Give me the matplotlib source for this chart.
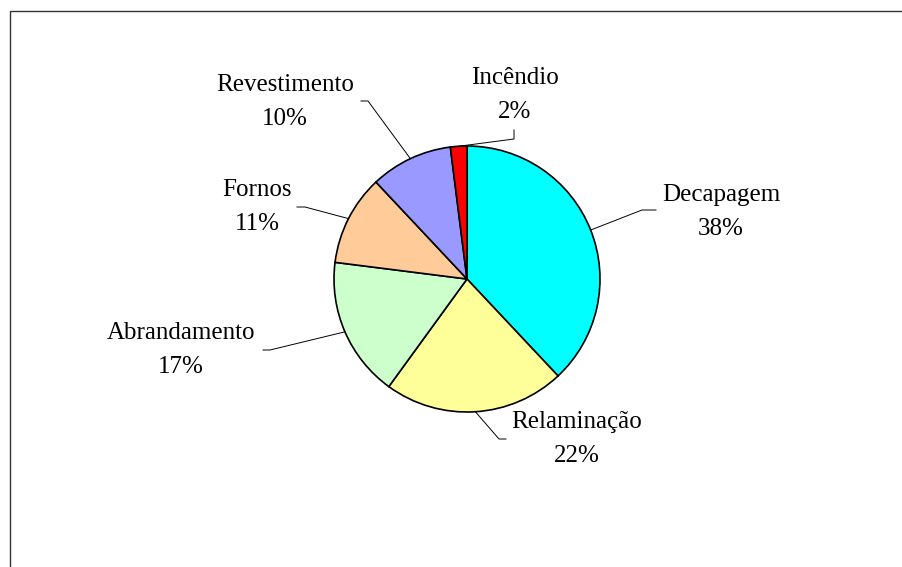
import numpy as np
import matplotlib.pyplot as plt
from matplotlib.patches import Rectangle

# Slice data (clockwise from 12 o'clock)
labels = ["Decapagem", "Relaminação", "Abrandamento", "Fornos", "Revestimento", "Incêndio"]
values = [38, 22, 17, 11, 10, 2]
colors = ["#00FFFF", "#FFFF99", "#CCFFCC", "#FFCC99", "#9999FF", "#FF0000"]

# Label placement (pixel coords, y down) and leader-line elbows
label_pos = [(721, 212), (577, 439), (181, 350), (257, 207), (285, 102), (515, 95)]
elbows = [[(642, 210), (656, 210)],
          [(499, 439), (506, 439)],
          [(270, 350), (263, 350)],
          [(305, 207), (297, 207)],
          [(368, 101), (361, 101)],
          [(514, 139), (514, 130)]]

cx, cy, r = 467, 279, 133

plt.rcParams['font.family'] = ['Liberation Serif', 'DejaVu Serif']

fig = plt.figure(figsize=(9.02, 5.67), dpi=100)
ax = fig.add_axes([0, 0, 1, 1])

# y axis is inverted, so counterclock in data = clockwise on screen
wedges, _ = ax.pie(values, colors=colors, startangle=-90, counterclock=True,
                   center=(cx, cy), radius=r,
                   wedgeprops=dict(edgecolor='black', linewidth=1.2))

ax.set_xlim(0, 902)
ax.set_ylim(567, 0)
ax.set_aspect('equal')
ax.axis('off')

for w, lab, v, (lx, ly), elb in zip(wedges, labels, values, label_pos, elbows):
    mid = np.deg2rad((w.theta1 + w.theta2) / 2)
    px, py = cx + r * np.cos(mid), cy + r * np.sin(mid)
    xs = [px] + [e[0] for e in elb]
    ys = [py] + [e[1] for e in elb]
    ax.plot(xs, ys, color='black', linewidth=0.7)
    ax.text(lx, ly, f"{lab}\n{v}%", ha='center', va='center', fontsize=18,
            linespacing=1.7)

# outer chart frame
ax.add_patch(Rectangle((9.5, 10.5), 900, 600, fill=False, edgecolor='#333333',
                       linewidth=1.0, clip_on=False))

fig.savefig("out.png", dpi=100)
